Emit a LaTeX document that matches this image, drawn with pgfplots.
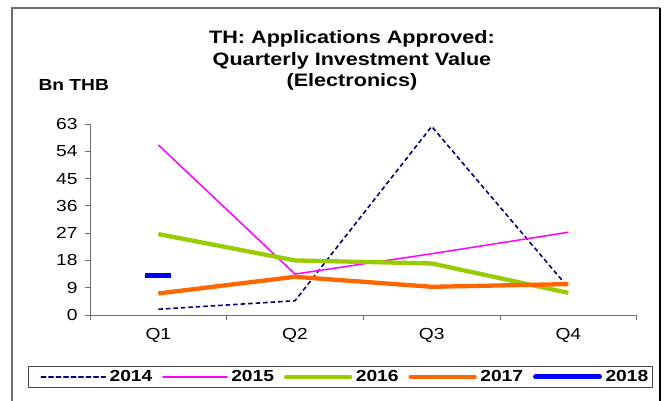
\documentclass[border=0pt]{standalone}
\usepackage{fontspec}
\setmainfont[FakeStretch=1.2]{Liberation Sans}
\usepackage{pgfplots}
\pgfplotsset{compat=1.18}
\definecolor{c2014}{RGB}{0,0,128}
\definecolor{c2015}{RGB}{255,0,255}
\definecolor{c2016}{RGB}{153,204,0}
\definecolor{c2017}{RGB}{255,102,0}
\definecolor{c2018}{RGB}{0,0,255}
\definecolor{axisgray}{RGB}{110,110,110}
\begin{document}
\begin{tikzpicture}
\useasboundingbox (0,0) rectangle (669pt,-401pt);
% frame of the chart
\draw[axisgray, line width=1.2pt] (12pt,-410pt) -- (12pt,-8pt) -- (660pt,-8pt);
\draw[black, line width=1.5pt] (660pt,-8pt) -- (660pt,-410pt);
% titles
\node[align=center, font=\fontsize{18}{21.5}\selectfont\bfseries] at (352pt,-60.5pt)
  {TH: Applications Approved:\\Quarterly Investment Value\\(Electronics)};
\node[anchor=base west, font=\fontsize{16}{18}\selectfont\bfseries] at (35pt,-91pt) {Bn THB};
\begin{axis}[
  at={(90pt,-315pt)}, anchor=south west,
  scale only axis, width=546.7pt, height=191pt,
  xmin=-0.5, xmax=3.5, ymin=0, ymax=63,
  axis x line*=bottom, axis y line*=left,
  axis line style={-, axisgray, line width=0.8pt},
  xtick={0,1,2,3}, xticklabels={Q1,Q2,Q3,Q4},
  minor xtick={-0.5,0.5,1.5,2.5,3.5},
  ytick={0,9,18,27,36,45,54,63},
  tick align=outside, major tick length=5pt, minor tick length=5pt,
  major x tick style={draw=none},
  minor x tick style={axisgray, line width=0.8pt},
  major y tick style={axisgray, line width=0.8pt},
  ticklabel style={font=\fontsize{16}{18}\selectfont},
  yticklabel style={xshift=-4pt},
  xticklabel style={yshift=-5pt},
  /pgf/number format/assume math mode=true,
  legend style={at={(-0.1134,-0.267)}, anchor=north west,
    draw=black!70, line width=1pt, inner sep=2pt,
    legend columns=5,
    font=\fontsize{16}{18}\selectfont\bfseries,
    /tikz/every odd column/.append style={column sep=1.5pt},
    /tikz/every even column/.append style={column sep=-2pt}},
  legend image code/.code={\path (-10pt,0pt); \draw[#1, line cap=round] (0pt,0pt) -- (64pt,0pt);},
]
\addplot[c2014, line width=1.6pt, dash pattern=on 4.5pt off 3pt]
  coordinates {(0,1.9)(1,4.7)(2,62.2)(3,9.0)};
\addlegendentry{2014}
\addplot[c2015, line width=1.5pt]
  coordinates {(0,56.1)(1,13.5)(2,20.2)(3,27.3)};
\addlegendentry{2015}
\addplot[c2016, line width=4.3pt]
  coordinates {(0,26.7)(1,18.0)(2,17.0)(3,7.3)};
\addlegendentry{2016}
\addplot[c2017, line width=4.3pt]
  coordinates {(0,7.1)(1,12.6)(2,9.3)(3,10.2)};
\addlegendentry{2017}
\addplot[c2018, line width=5pt, mark=-, mark size=13pt,
  mark options={solid, line width=5pt}]
  coordinates {(0,13.1)};
\addlegendentry{2018}
\end{axis}
\end{tikzpicture}
\end{document}
